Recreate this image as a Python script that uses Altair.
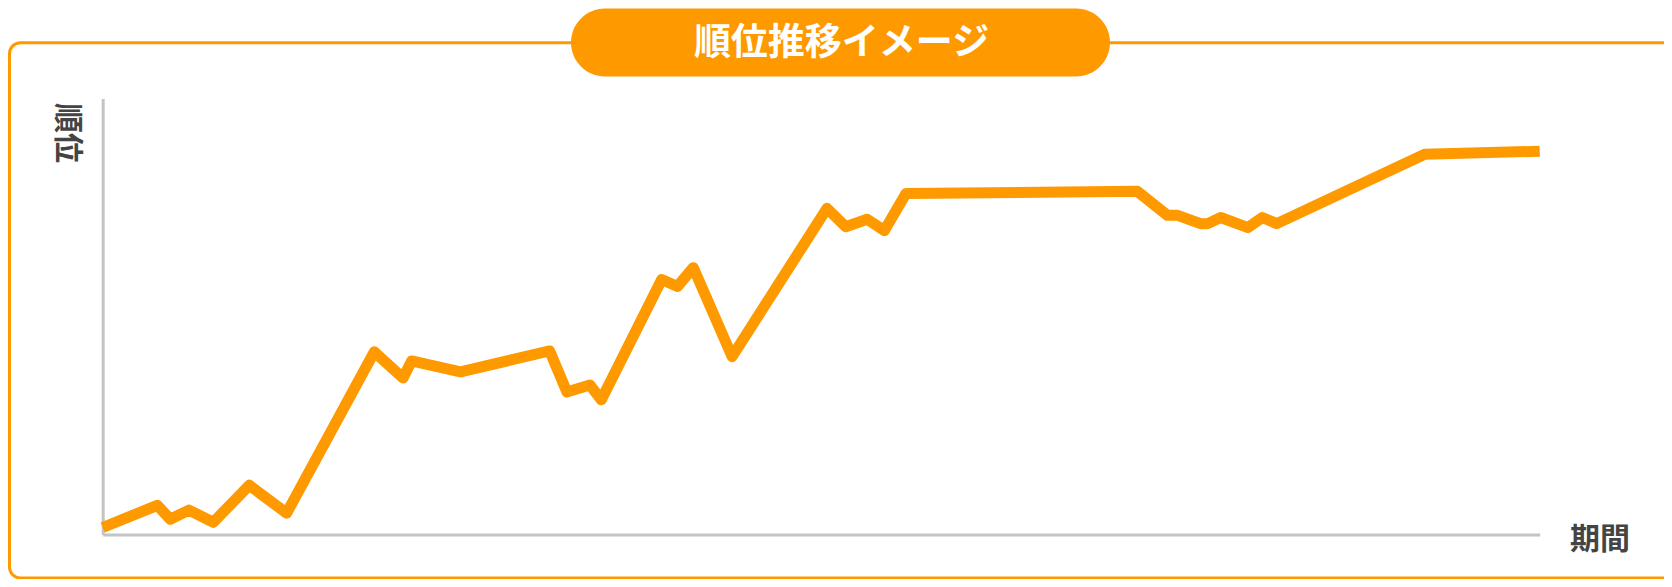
import altair as alt
import pandas as pd

# period positions (0-100) and rank score (0-100, higher = better rank)
period = [0.0, 3.8, 4.7, 6.0, 7.7, 10.2, 12.8, 18.9, 20.9, 21.5, 24.9, 31.1, 32.3,
          33.9, 34.7, 38.9, 40.0, 41.1, 43.8, 50.4, 51.7, 53.2, 54.4, 55.9, 72.0,
          74.1, 74.8, 76.4, 76.9, 77.8, 79.7, 80.7, 81.7, 92.0, 100.0]
rank = [1.6, 6.7, 3.5, 5.6, 2.8, 11.3, 4.9, 41.9, 35.9, 39.8, 37.3, 42.1, 32.7,
        34.3, 30.9, 58.5, 56.9, 61.2, 40.8, 74.8, 70.6, 72.3, 69.7, 78.2, 78.7,
        73.2, 73.2, 71.3, 71.3, 72.7, 70.4, 72.7, 71.3, 87.2, 87.9]

title_text = "順位推移イメージ"
y_label = "順位"
x_label = "期間"

ORANGE = "#ff9900"
GRAY = "#c4c4c4"
TEXT = "#444444"
FONT = "Noto Sans CJK JP"

W, H = 1437, 436

df = pd.DataFrame({"period": period, "rank": rank})
one = pd.DataFrame({"k": [0]})

frame = alt.Chart(one).mark_rect(
    fill=None, stroke=ORANGE, strokeWidth=3, cornerRadius=11
).encode(
    x=alt.value(-93.2), x2=alt.value(1600),
    y=alt.value(-55.8), y2=alt.value(479.5)
)

pill = alt.Chart(one).mark_rect(fill=ORANGE, cornerRadius=34).encode(
    x=alt.value(468.3), x2=alt.value(1007.3),
    y=alt.value(-90.0), y2=alt.value(-22.0)
)

title = alt.Chart(one).mark_text(
    text=title_text, font=FONT, fontSize=37, fontWeight="bold", color="white",
    align="center", baseline="middle"
).encode(x=alt.value(738.8), y=alt.value(-55.0))

ylab = alt.Chart(one).mark_text(
    text=y_label, font=FONT, fontSize=30, fontWeight="bold", color=TEXT,
    align="center", baseline="middle", angle=90
).encode(x=alt.value(-35.2), y=alt.value(34.5))

xlab = alt.Chart(one).mark_text(
    text=x_label, font=FONT, fontSize=30, fontWeight="bold", color=TEXT,
    align="center", baseline="middle"
).encode(x=alt.value(1497.3), y=alt.value(441.0))

axis_style = dict(title=None, labels=False, ticks=False, grid=False,
                  domainColor=GRAY, domainWidth=3)

line = alt.Chart(df).mark_line(
    color=ORANGE, strokeWidth=11, strokeJoin="round", strokeCap="butt"
).encode(
    x=alt.X("period:Q", scale=alt.Scale(domain=[0, 100], nice=False, zero=False),
            axis=alt.Axis(**axis_style)),
    y=alt.Y("rank:Q", scale=alt.Scale(domain=[0, 100], nice=False, zero=False),
            axis=alt.Axis(**axis_style)),
    order=alt.Order("period:Q")
)

chart = alt.layer(frame, pill, title, ylab, xlab, line).properties(
    width=W, height=H,
    autosize=alt.AutoSizeParams(type="none"),
    padding={"left": 94.7, "top": 90.5, "right": 124.3, "bottom": 44.5},
    background="white"
).configure_view(stroke=None)

chart.save("out.html", embed_options={"renderer": "svg", "actions": False})
